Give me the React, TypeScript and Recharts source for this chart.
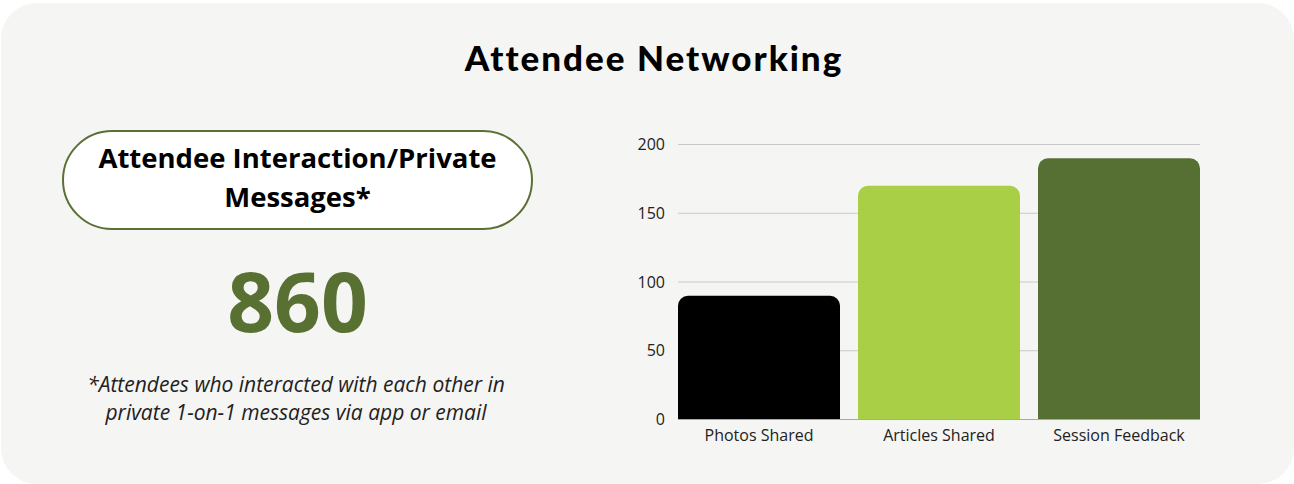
import { BarChart, Bar, XAxis, YAxis, CartesianGrid, Cell } from 'recharts';

const categories = ['Photos Shared', 'Articles Shared', 'Session Feedback'];
const counts = [90, 170, 190];
const barColors = ['#000000', '#a8cf45', '#566f33'];
const yTicks = [0, 50, 100, 150, 200];

const data = categories.map((name, i) => ({ name, value: counts[i] }));

const font = '"Open Sans", sans-serif';

export default function App() {
  return (
    <div style={{ position: 'fixed', left: 0, top: 0, width: 1294, height: 484, background: '#ffffff', overflow: 'hidden' }}>
      {/* card */}
      <div
        style={{
          position: 'absolute',
          left: 1,
          top: 3,
          width: 1293,
          height: 481,
          background: '#f5f5f3',
          borderRadius: 36,
        }}
      />

      <div
        style={{
          position: 'absolute',
          left: 0,
          top: 35.5,
          width: 1308,
          textAlign: 'center',
          fontFamily: 'Lato, sans-serif',
          fontWeight: 900,
          fontSize: 35,
          letterSpacing: 2,
          lineHeight: '42px',
          color: '#000',
        }}
      >
        Attendee Networking
      </div>

      {/* pill */}
      <div
        style={{
          position: 'absolute',
          left: 62,
          top: 130,
          width: 471,
          height: 100,
          boxSizing: 'border-box',
          border: '2px solid #5a7034',
          borderRadius: 50,
          background: '#ffffff',
        }}
      />
      <div
        style={{
          position: 'absolute',
          left: 62,
          top: 137.8,
          width: 471,
          textAlign: 'center',
          fontFamily: font,
          fontWeight: 700,
          fontSize: 27.5,
          lineHeight: '39px',
          color: '#000',
        }}
      >
        Attendee Interaction/Private
        <br />
        Messages*
      </div>

      <div
        style={{
          position: 'absolute',
          left: 62,
          top: 259,
          width: 471,
          textAlign: 'center',
          fontFamily: font,
          fontWeight: 700,
          fontSize: 82,
          lineHeight: '82px',
          color: '#587133',
        }}
      >
        860
      </div>

      <div
        style={{
          position: 'absolute',
          left: 36,
          top: 369.9,
          width: 520,
          textAlign: 'center',
          fontFamily: font,
          fontStyle: 'italic',
          fontSize: 21,
          lineHeight: '28px',
          color: '#222',
        }}
      >
        *Attendees who interacted with each other in
        <br />
        private 1-on-1 messages via app or email
      </div>

      <div style={{ position: 'absolute', left: 600, top: 120 }}>
        <BarChart
          width={640}
          height={340}
          data={data}
          margin={{ top: 24.5, right: 40, bottom: 0, left: 0 }}
        >
          <CartesianGrid vertical={false} stroke="#c9c9c9" />
          <XAxis
            dataKey="name"
            padding={{ left: -9, right: -9 }}
            height={40.5}
            tickLine={false}
            tickSize={0}
            tickMargin={10}
            stroke="#a8a8a8"
            tick={{ fill: '#222', fontSize: 16, fontFamily: font }}
          />
          <YAxis
            width={78}
            domain={[0, 200]}
            ticks={yTicks}
            axisLine={false}
            tickLine={false}
            tickSize={0}
            tickMargin={13}
            tick={{ fill: '#222', fontSize: 16, fontFamily: font }}
          />
          <Bar dataKey="value" barSize={162} radius={[10, 10, 0, 0]} isAnimationActive={false}>
            {data.map((d, i) => (
              <Cell key={d.name} fill={barColors[i]} />
            ))}
          </Bar>
        </BarChart>
      </div>
    </div>
  );
}
